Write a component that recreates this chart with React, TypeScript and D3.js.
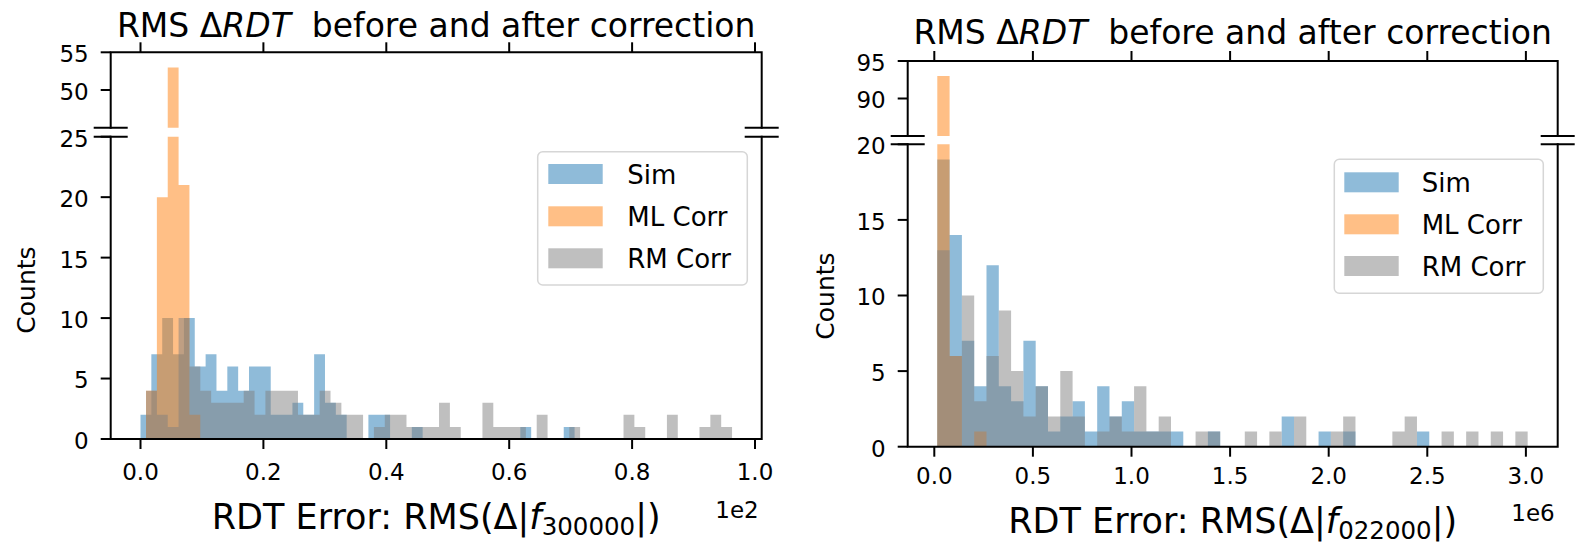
import React from 'react';
import * as d3 from 'd3';

const FONT = "'DejaVu Sans', sans-serif";

// Series names and colours (Sim, ML Corr, RM Corr)
const seriesNames = ['Sim', 'ML Corr', 'RM Corr'];
const seriesColors = ['#1f77b4', '#ff7f0e', '#808080'];

// ---------- Left panel: RMS(Δ|f300000|), x in units of 1e2 ----------
const leftXTicks = [0, 0.2, 0.4, 0.6, 0.8, 1.0];
const leftLowerYTicks = [0, 5, 10, 15, 20, 25];
const leftUpperYTicks = [50, 55];
const leftBinWidth = 0.01766;
const leftBinStarts = [0.0, 0.009, 0.009];
const leftSimCounts = [2, 7, 10, 7, 10, 6, 7, 4, 6, 4, 6, 6, 2, 2, 3, 2, 7, 3, 2, 0, 0, 2, 2, 0, 0, 1, 0, 0, 0, 0, 0, 0, 0, 0, 0, 1, 0, 0, 0, 1];
const leftMLCounts = [4, 20, 53, 21, 2];
const leftRMCounts = [4, 2, 1, 10, 6, 4, 3, 3, 3, 4, 2, 4, 4, 4, 2, 2, 4, 3, 2, 2, 0, 1, 2, 2, 1, 1, 1, 3, 1, 0, 0, 3, 1, 1, 1, 0, 2, 0, 0, 1, 0, 0, 0, 0, 2, 1, 0, 0, 2, 0, 0, 1, 2, 1];

// ---------- Right panel: RMS(Δ|f022000|), x in units of 1e6 ----------
const rightXTicks = [0, 0.5, 1.0, 1.5, 2.0, 2.5, 3.0];
const rightLowerYTicks = [0, 5, 10, 15, 20];
const rightUpperYTicks = [90, 95];
const rightBinWidth = 0.06237;
const rightBinStarts = [0.0152, 0.0152, 0.0152];
const rightSimCounts = [19, 14, 7, 4, 12, 4, 3, 7, 4, 1, 2, 3, 1, 4, 2, 3, 1, 1, 1, 1, 0, 0, 1, 0, 0, 0, 0, 0, 2, 0, 0, 1, 0, 1, 0, 0, 0, 0, 0, 1];
const rightMLCounts = [93, 6, 0, 1];
const rightRMCounts = [13, 6, 10, 3, 6, 9, 5, 2, 4, 2, 5, 2, 0, 1, 2, 1, 4, 1, 2, 0, 0, 1, 1, 0, 0, 1, 0, 1, 0, 2, 0, 0, 1, 2, 0, 0, 0, 1, 2, 0, 0, 1, 0, 1, 0, 1, 0, 1];

type PanelCfg = {
  id: string;
  x0: number; x1: number; xDomain: [number, number];
  upTop: number; upBot: number; upDomain: [number, number];
  loTop: number; loBot: number; loDomain: [number, number];
  xTicks: number[]; upTicks: number[]; loTicks: number[];
  binWidth: number; binStarts: number[]; counts: number[][];
  titleY: number; tickLabelY: number; xLabelY: number; offsetY: number;
  offsetText: string; sub: string;
  yLabelX: number; yLabelY: number;
  legend: { x: number; y: number; w: number; h: number; patchDx: number; textDx: number; rows: number[] };
};

const TICK = 10;
const LW = 2;

function histPath(counts: number[], start: number, w: number, x: (v: number) => number, y: (v: number) => number) {
  const p = d3.path();
  counts.forEach((c, i) => {
    if (c <= 0) return;
    const xa = x(start + i * w);
    const xb = x(start + (i + 1) * w);
    const y0 = y(0);
    const y1 = y(c);
    p.rect(xa, y1, xb - xa, y0 - y1);
  });
  return p.toString();
}

function Panel({ cfg }: { cfg: PanelCfg }) {
  const x = d3.scaleLinear().domain(cfg.xDomain).range([cfg.x0, cfg.x1]);
  const yUp = d3.scaleLinear().domain(cfg.upDomain).range([cfg.upBot, cfg.upTop]);
  const yLo = d3.scaleLinear().domain(cfg.loDomain).range([cfg.loBot, cfg.loTop]);
  const fmt = d3.format('.1f');
  const cx = (cfg.x0 + cfg.x1) / 2;
  const upClip = `${cfg.id}-up`;
  const loClip = `${cfg.id}-lo`;
  const tickFs = 23;
  const breakHalf = 17;
  const labelFs = 35;
  return (
    <g>
      <defs>
        <clipPath id={upClip}>
          <rect x={cfg.x0} y={cfg.upTop} width={cfg.x1 - cfg.x0} height={cfg.upBot - cfg.upTop} />
        </clipPath>
        <clipPath id={loClip}>
          <rect x={cfg.x0} y={cfg.loTop} width={cfg.x1 - cfg.x0} height={cfg.loBot - cfg.loTop} />
        </clipPath>
      </defs>
      {/* histograms */}
      <g clipPath={`url(#${upClip})`}>
        {cfg.counts.map((c, i) => (
          <path key={i} d={histPath(c, cfg.binStarts[i], cfg.binWidth, x, yUp)} fill={seriesColors[i]} fillOpacity={0.5} />
        ))}
      </g>
      <g clipPath={`url(#${loClip})`}>
        {cfg.counts.map((c, i) => (
          <path key={i} d={histPath(c, cfg.binStarts[i], cfg.binWidth, x, yLo)} fill={seriesColors[i]} fillOpacity={0.5} />
        ))}
      </g>
      {/* spines */}
      <g stroke="#000" strokeWidth={LW} fill="none" strokeLinecap="square">
        <path d={`M${cfg.x0},${cfg.upBot}V${cfg.upTop}H${cfg.x1}V${cfg.upBot}`} />
        <path d={`M${cfg.x0},${cfg.loTop}V${cfg.loBot}H${cfg.x1}V${cfg.loTop}`} />
      </g>
      {/* break marks */}
      <g stroke="#000" strokeWidth={LW}>
        {[cfg.x0, cfg.x1].map((sx) => (
          <g key={sx}>
            <line x1={sx - breakHalf} x2={sx + breakHalf} y1={cfg.upBot} y2={cfg.upBot} />
            <line x1={sx - breakHalf} x2={sx + breakHalf} y1={cfg.loTop} y2={cfg.loTop} />
          </g>
        ))}
      </g>
      {/* ticks */}
      <g stroke="#000" strokeWidth={LW}>
        {cfg.xTicks.map((t) => (
          <g key={t}>
            <line x1={x(t)} x2={x(t)} y1={cfg.upTop} y2={cfg.upTop - TICK} />
            <line x1={x(t)} x2={x(t)} y1={cfg.loBot} y2={cfg.loBot + TICK} />
          </g>
        ))}
        {cfg.upTicks.map((t) => (
          <line key={'u' + t} x1={cfg.x0} x2={cfg.x0 - TICK} y1={yUp(t)} y2={yUp(t)} />
        ))}
        {cfg.loTicks.map((t) => (
          <line key={'l' + t} x1={cfg.x0} x2={cfg.x0 - TICK} y1={yLo(t)} y2={yLo(t)} />
        ))}
      </g>
      <g fontFamily={FONT} fontSize={tickFs} fill="#000">
        {cfg.xTicks.map((t) => (
          <text key={t} x={x(t)} y={cfg.tickLabelY} textAnchor="middle">{fmt(t)}</text>
        ))}
        {cfg.upTicks.map((t) => (
          <text key={'u' + t} x={cfg.x0 - 22} y={yUp(t) + 9.9} textAnchor="end">{t}</text>
        ))}
        {cfg.loTicks.map((t) => (
          <text key={'l' + t} x={cfg.x0 - 22} y={yLo(t) + 9.9} textAnchor="end">{t}</text>
        ))}
        <text x={cfg.x1 - 3} y={cfg.offsetY} textAnchor="end">{cfg.offsetText}</text>
      </g>
      {/* y label */}
      <text fontFamily={FONT} fontSize={25} textAnchor="middle" transform={`translate(${cfg.yLabelX},${cfg.yLabelY}) rotate(-90)`}>Counts</text>
      {/* title */}
      <text fontFamily={FONT} fontSize={33} x={cx} y={cfg.titleY} textAnchor="middle" style={{ whiteSpace: 'pre' }}>
        {'RMS Δ'}<tspan fontStyle="italic">RDT</tspan>{'  before and after correction'}
      </text>
      {/* x label */}
      <text fontFamily={FONT} fontSize={labelFs} x={cx} y={cfg.xLabelY} textAnchor="middle" style={{ whiteSpace: 'pre' }}>
        {'RDT Error: RMS(Δ|'}<tspan fontStyle="italic">f</tspan><tspan fontSize={labelFs * 0.7} dy={6}>{cfg.sub}</tspan><tspan dy={-6}>{'|)'}</tspan>
      </text>
      {/* legend */}
      <g>
        <rect x={cfg.legend.x} y={cfg.legend.y} width={cfg.legend.w} height={cfg.legend.h} rx={5} fill="#fff" fillOpacity={0.8} stroke="#d6d6d6" strokeWidth={1.5} />
        {seriesNames.map((n, i) => (
          <g key={n}>
            <rect x={cfg.legend.x + cfg.legend.patchDx} y={cfg.legend.y + cfg.legend.rows[i] - 10} width={54.4} height={20} fill={seriesColors[i]} fillOpacity={0.5} />
            <text x={cfg.legend.x + cfg.legend.textDx} y={cfg.legend.y + cfg.legend.rows[i] + 9.5} fontFamily={FONT} fontSize={26} fill="#000">{n}</text>
          </g>
        ))}
      </g>
    </g>
  );
}

const leftCfg: PanelCfg = {
  id: 'left',
  x0: 110.7, x1: 761.7, xDomain: [-0.0485, 1.0109],
  upTop: 52.3, upBot: 127.7, upDomain: [45, 55],
  loTop: 136.7, loBot: 439, loDomain: [0, 25],
  xTicks: leftXTicks, upTicks: leftUpperYTicks, loTicks: leftLowerYTicks,
  binWidth: leftBinWidth, binStarts: leftBinStarts, counts: [leftSimCounts, leftMLCounts, leftRMCounts],
  titleY: 37, tickLabelY: 480, xLabelY: 529, offsetY: 518,
  offsetText: '1e2', sub: '300000',
  yLabelX: 35, yLabelY: 290,
  legend: { x: 537.7, y: 151.7, w: 209.6, h: 133.3, patchDx: 10.6, textDx: 89.6, rows: [22.3, 64.6, 106.6] },
};

const rightCfg: PanelCfg = {
  id: 'right',
  x0: 907.7, x1: 1557.7, xDomain: [-0.1349, 3.1613],
  upTop: 61, upBot: 136, upDomain: [85, 95],
  loTop: 144.3, loBot: 446.7, loDomain: [0, 20],
  xTicks: rightXTicks, upTicks: rightUpperYTicks, loTicks: rightLowerYTicks,
  binWidth: rightBinWidth, binStarts: rightBinStarts, counts: [rightSimCounts, rightMLCounts, rightRMCounts],
  titleY: 44, tickLabelY: 484, xLabelY: 533, offsetY: 521,
  offsetText: '1e6', sub: '022000',
  yLabelX: 834, yLabelY: 296,
  legend: { x: 1334.3, y: 159.3, w: 209, h: 134, patchDx: 10, textDx: 87.4, rows: [23, 65, 106.7] },
};

export default function App() {
  return (
    <svg width={1585} height={545} style={{ position: 'absolute', left: 0, top: 0, background: '#fff' }}>
      <rect width={1585} height={545} fill="#fff" />
      <Panel cfg={leftCfg} />
      <Panel cfg={rightCfg} />
    </svg>
  );
}
